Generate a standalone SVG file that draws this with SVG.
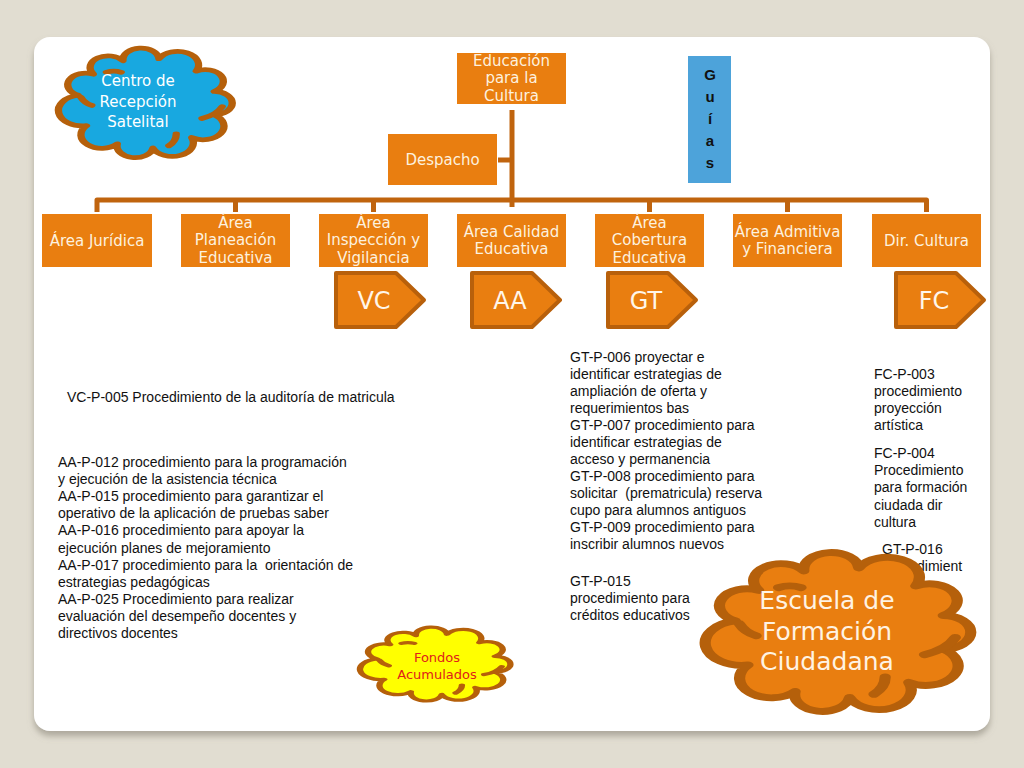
<svg xmlns="http://www.w3.org/2000/svg" width="1024" height="768" viewBox="0 0 1024 768">
<defs>
  <filter id="sh" x="-5%" y="-5%" width="110%" height="115%">
    <feDropShadow dx="0" dy="5" stdDeviation="3" flood-color="#8a8578" flood-opacity="0.6"/>
  </filter>
  <path id="cloud" d="M12.6,43.4 A1,1 0 0 1 20.9,25.6 A1,1 0 0 1 37,14.3 A1,1 0 0 1 56.6,12.6 A1,1 0 0 1 76.9,23.1 A1,1 0 0 1 86.7,40.2 A1,1 0 0 1 86.7,59.8 A1,1 0 0 1 74.4,79.1 A1,1 0 0 1 53.3,87.9 A1,1 0 0 1 33.9,84.4 A1,1 0 0 1 17.1,69 A1,1 0 0 1 12.6,43.4 Z"/>
  <path id="curls" d="M80,63 Q88,60 91,53 M62,86 Q66,82 66,76 M14,45 Q16,50 20,52 M28,24 Q32,22 36,24"/>
</defs>
<style>
  .box { fill:#E97E10; }
  .bt { font-family:"DejaVu Sans", Verdana, sans-serif; font-size:15px; fill:#FDF1DF; text-anchor:middle; }
  .conn { stroke:#C0640E; stroke-width:5; fill:none; stroke-linejoin:round; }
  .pent { fill:#E97E10; stroke:#B8600B; stroke-width:4; stroke-linejoin:round; }
  .pt { font-family:"DejaVu Sans", Verdana, sans-serif; font-size:24px; fill:#FFF6EA; text-anchor:middle; }
  .tx { font-family:"Liberation Sans", Arial, sans-serif; font-size:14px; fill:#111; white-space:pre; }
  .cl { stroke:#B5600B; vector-effect:non-scaling-stroke; stroke-width:4; stroke-linejoin:round; }
  .curl { fill:none; stroke:#B5600B; vector-effect:non-scaling-stroke; stroke-width:4; stroke-linecap:round; }
</style>
<rect x="0" y="0" width="1024" height="768" fill="#E1DDD1"/>
<rect x="34" y="37" width="956" height="694" rx="16" fill="#FFFFFF" filter="url(#sh)"/>

<g id="connectors">
  <path class="conn" d="M512,110 V207"/>
  <path class="conn" d="M498,160 H512"/>
  <path class="conn" d="M97,212 V200 H926.5 V212"/>
  <path class="conn" d="M235.5,200 V212 M373.5,200 V212 M649.5,200 V212 M787.5,200 V212"/>
</g>

<g id="educacion">
  <rect class="box" x="457" y="53" width="109" height="51"/>
  <text class="bt" x="511.5" y="66">Educación</text>
  <text class="bt" x="511.5" y="83">para la</text>
  <text class="bt" x="511.5" y="101">Cultura</text>
</g>
<g id="despacho">
  <rect class="box" x="388" y="134" width="109" height="51"/>
  <text class="bt" x="442.5" y="165">Despacho</text>
</g>
<g id="guias">
  <rect x="688" y="56" width="43" height="127" fill="#4DA3DA"/>
  <g font-family="Liberation Sans, Arial, sans-serif" font-weight="bold" font-size="15" text-anchor="middle" fill="#111">
    <text x="710" y="80">G</text>
    <text x="710" y="102">u</text>
    <text x="710" y="124">í</text>
    <text x="710" y="146">a</text>
    <text x="710" y="168">s</text>
  </g>
</g>

<g id="area-juridica">
  <rect class="box" x="42" y="214" width="110" height="53"/>
  <text class="bt" x="97" y="246">Área Jurídica</text>
</g>
<g id="area-planeacion">
  <rect class="box" x="181" y="214" width="109" height="53"/>
  <text class="bt" x="235.5" y="228">Área</text>
  <text class="bt" x="235.5" y="245">Planeación</text>
  <text class="bt" x="235.5" y="263">Educativa</text>
</g>
<g id="area-inspeccion">
  <rect class="box" x="319" y="214" width="109" height="53"/>
  <text class="bt" x="373.5" y="228">Área</text>
  <text class="bt" x="373.5" y="245">Inspección y</text>
  <text class="bt" x="373.5" y="263">Vigilancia</text>
</g>
<g id="area-calidad">
  <rect class="box" x="457" y="214" width="109" height="53"/>
  <text class="bt" x="511.5" y="237">Área Calidad</text>
  <text class="bt" x="511.5" y="254">Educativa</text>
</g>
<g id="area-cobertura">
  <rect class="box" x="595" y="214" width="109" height="53"/>
  <text class="bt" x="649.5" y="228">Área</text>
  <text class="bt" x="649.5" y="245">Cobertura</text>
  <text class="bt" x="649.5" y="263">Educativa</text>
</g>
<g id="area-admitiva">
  <rect class="box" x="733" y="214" width="109" height="53"/>
  <text class="bt" x="787.5" y="237">Área Admitiva</text>
  <text class="bt" x="787.5" y="254">y Financiera</text>
</g>
<g id="dir-cultura">
  <rect class="box" x="872" y="214" width="109" height="53"/>
  <text class="bt" x="926.5" y="246">Dir. Cultura</text>
</g>

<g id="vc">
  <path class="pent" d="M336,273 H396 L424,300 L396,327 H336 Z"/>
  <text class="pt" x="374" y="309">VC</text>
</g>
<g id="aa">
  <path class="pent" d="M472,273 H532 L560,300 L532,327 H472 Z"/>
  <text class="pt" x="510" y="309">AA</text>
</g>
<g id="gt">
  <path class="pent" d="M608,273 H668 L696,300 L668,327 H608 Z"/>
  <text class="pt" x="646" y="309">GT</text>
</g>
<g id="fc">
  <path class="pent" d="M896,273 H956 L984,300 L956,327 H896 Z"/>
  <text class="pt" x="934" y="309">FC</text>
</g>

<g id="vc-text" class="tx">
  <text x="67" y="402">VC-P-005 Procedimiento de la auditoría de matricula</text>
</g>
<g id="aa-text" class="tx">
  <text x="58" y="467">AA-P-012 procedimiento para la programación</text>
  <text x="58" y="484">y ejecución de la asistencia técnica</text>
  <text x="58" y="501">AA-P-015 procedimiento para garantizar el</text>
  <text x="58" y="518">operativo de la aplicación de pruebas saber</text>
  <text x="58" y="535">AA-P-016 procedimiento para apoyar la</text>
  <text x="58" y="553">ejecución planes de mejoramiento</text>
  <text x="58" y="570" xml:space="preserve">AA-P-017 procedimiento para la  orientación de</text>
  <text x="58" y="587">estrategias pedagógicas</text>
  <text x="58" y="604">AA-P-025 Procedimiento para realizar</text>
  <text x="58" y="621">evaluación del desempeño docentes y</text>
  <text x="58" y="638">directivos docentes</text>
</g>
<g id="gt-text" class="tx">
  <text x="570" y="362">GT-P-006 proyectar e</text>
  <text x="570" y="379">identificar estrategias de</text>
  <text x="570" y="396">ampliación de oferta y</text>
  <text x="570" y="413">requerimientos bas</text>
  <text x="570" y="430">GT-P-007 procedimiento para</text>
  <text x="570" y="447">identificar estrategias de</text>
  <text x="570" y="464">acceso y permanencia</text>
  <text x="570" y="481">GT-P-008 procedimiento para</text>
  <text x="570" y="498" xml:space="preserve">solicitar  (prematricula) reserva</text>
  <text x="570" y="515">cupo para alumnos antiguos</text>
  <text x="570" y="532">GT-P-009 procedimiento para</text>
  <text x="570" y="549">inscribir alumnos nuevos</text>
  <text x="570" y="586">GT-P-015</text>
  <text x="570" y="603">procedimiento para</text>
  <text x="570" y="620">créditos educativos</text>
</g>
<g id="fc-text" class="tx">
  <text x="874" y="379">FC-P-003</text>
  <text x="874" y="396">procedimiento</text>
  <text x="874" y="413">proyección</text>
  <text x="874" y="430">artística</text>
  <text x="874" y="458">FC-P-004</text>
  <text x="874" y="475">Procedimiento</text>
  <text x="874" y="492">para formación</text>
  <text x="874" y="510">ciudada dir</text>
  <text x="874" y="527">cultura</text>
  <text x="882" y="554">GT-P-016</text>
  <text x="882" y="571">procedimient</text>
</g>

<g id="centro-recepcion">
  <g transform="translate(55,43.8) scale(1.837,1.186)">
    <use href="#cloud" class="cl" fill="#18A8E0"/>
    <use href="#curls" class="curl"/>
  </g>
  <g font-family="DejaVu Sans, Verdana, sans-serif" font-size="15" fill="#FFFFFF" text-anchor="middle">
    <text x="138" y="86">Centro de</text>
    <text x="138" y="107">Recepción</text>
    <text x="138" y="127">Satelital</text>
  </g>
</g>

<g id="fondos">
  <g transform="translate(357,624.2) scale(1.59,0.80)">
    <use href="#cloud" class="cl" fill="#FFFF00"/>
    <use href="#curls" class="curl"/>
  </g>
  <g font-family="DejaVu Sans, Verdana, sans-serif" font-size="13" fill="#E0201A" text-anchor="middle">
    <text x="437" y="662">Fondos</text>
    <text x="437" y="679">Acumulados</text>
  </g>
</g>

<g id="escuela">
  <g transform="translate(700,546.3) scale(2.806,1.72)">
    <use href="#cloud" class="cl" fill="#E97E10"/>
    <use href="#curls" class="curl"/>
  </g>
  <g font-family="DejaVu Sans, Verdana, sans-serif" font-size="25" fill="#FFF3E3" text-anchor="middle">
    <text x="827" y="609">Escuela de</text>
    <text x="827" y="640">Formación</text>
    <text x="827" y="670">Ciudadana</text>
  </g>
</g>
</svg>
